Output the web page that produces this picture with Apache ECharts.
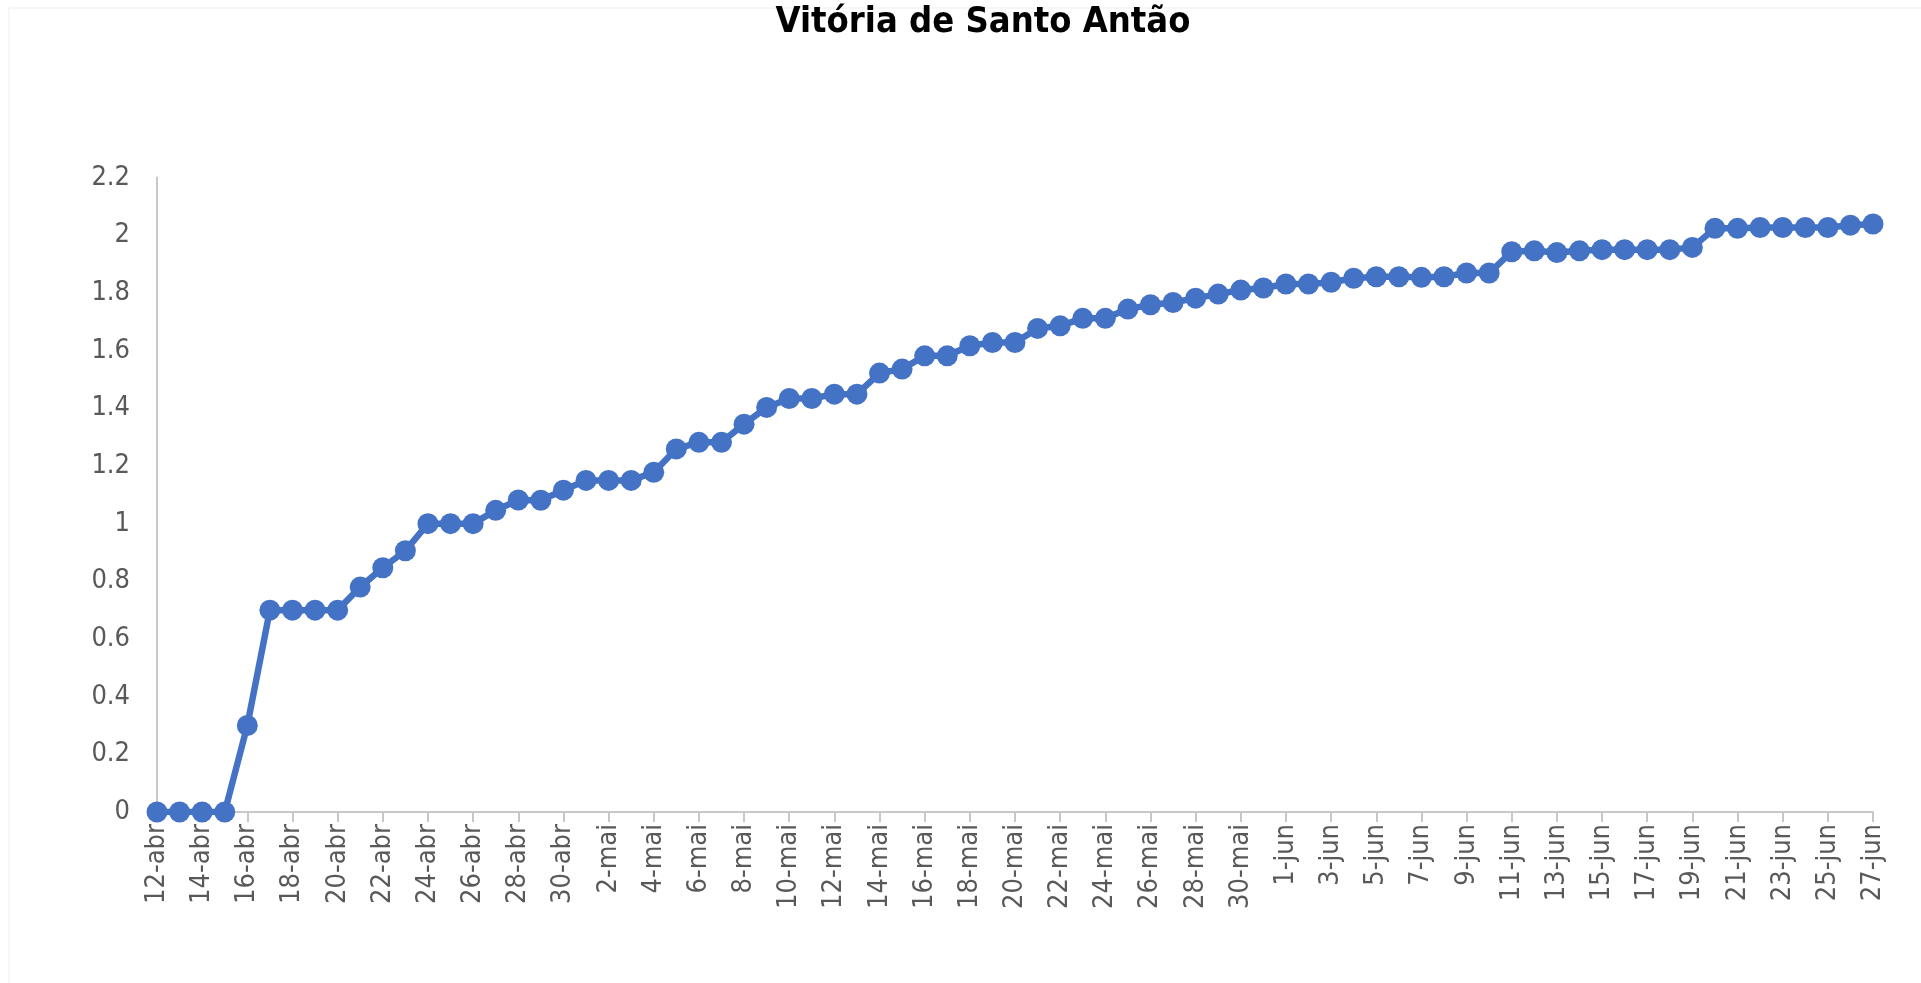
<!DOCTYPE html>
<html>
<head>
<meta charset="utf-8">
<title>Vitória de Santo Antão</title>
<script src="https://cdn.jsdelivr.net/npm/echarts@6/dist/echarts.min.js"></script>
<style>
  html, body { margin: 0; padding: 0; background: #fff; }
  #chart { width: 1921px; height: 983px; }
</style>
</head>
<body>
<div id="chart"></div>
<script>
// datas (12-abr a 27-jun)
var dias = [
  '12-abr', '13-abr', '14-abr', '15-abr', '16-abr', '17-abr', '18-abr', '19-abr', '20-abr', '21-abr',
  '22-abr', '23-abr', '24-abr', '25-abr', '26-abr', '27-abr', '28-abr', '29-abr', '30-abr',
  '1-mai', '2-mai', '3-mai', '4-mai', '5-mai', '6-mai', '7-mai', '8-mai', '9-mai', '10-mai',
  '11-mai', '12-mai', '13-mai', '14-mai', '15-mai', '16-mai', '17-mai', '18-mai', '19-mai', '20-mai',
  '21-mai', '22-mai', '23-mai', '24-mai', '25-mai', '26-mai', '27-mai', '28-mai', '29-mai', '30-mai', '31-mai',
  '1-jun', '2-jun', '3-jun', '4-jun', '5-jun', '6-jun', '7-jun', '8-jun', '9-jun', '10-jun',
  '11-jun', '12-jun', '13-jun', '14-jun', '15-jun', '16-jun', '17-jun', '18-jun', '19-jun', '20-jun',
  '21-jun', '22-jun', '23-jun', '24-jun', '25-jun', '26-jun', '27-jun'
]

// valores
var valoresAbr = [0, 0, 0, 0, 0.30, 0.70, 0.70, 0.70, 0.70, 0.78,
  0.847, 0.906, 1.0, 1.0, 1.0, 1.046, 1.082, 1.081, 1.116]
var valoresMai = [1.15, 1.15, 1.15, 1.178, 1.259, 1.282, 1.282, 1.345, 1.403, 1.434,
  1.434, 1.449, 1.449, 1.522, 1.536, 1.582, 1.582, 1.617, 1.628, 1.628,
  1.677, 1.686, 1.712, 1.712, 1.744, 1.759, 1.767, 1.782, 1.796, 1.81, 1.817]
var valoresJun = [1.831, 1.831, 1.837, 1.851, 1.856, 1.856, 1.854, 1.856, 1.869, 1.869,
  1.943, 1.946, 1.94, 1.946, 1.95, 1.95, 1.95, 1.95, 1.958, 2.024,
  2.024, 2.027, 2.027, 2.027, 2.027, 2.035, 2.039]

var yMin = 0
var yMax = 2.2
var yPasso = 0.2

var fonte = "'DejaVu Sans Condensed', 'Liberation Sans Narrow', 'DejaVu Sans', sans-serif"
var corCinza = '#595959'
var corEixo = '#c8c8c8'

var chart = echarts.init(document.getElementById('chart'), null, { renderer: 'canvas' })

var option = {
  backgroundColor: '#ffffff',
  title: {
    text: 'Vitória de Santo Antão',
    left: 978,
    top: 0,
    textAlign: 'center',
    textStyle: {
      color: '#000000',
      fontFamily: fonte,
      fontSize: 36,
      fontWeight: 'bold'
    }
  },
  graphic: [
    { type: 'line', shape: { x1: 9, y1: 8, x2: 1921, y2: 8 }, style: { stroke: '#eeeeee', lineWidth: 1 }, z: -1 },
    { type: 'line', shape: { x1: 9, y1: 8, x2: 9, y2: 983 }, style: { stroke: '#eeeeee', lineWidth: 1 }, z: -1 }
  ],
  grid: {
    left: 157,
    right: 48,
    top: 177.6,
    bottom: 171
  },
  xAxis: {
    type: 'category',
    data: dias,
    boundaryGap: false,
    axisLine: { show: true, lineStyle: { color: corEixo, width: 2 } },
    axisTick: { show: true, interval: 1, length: 10, lineStyle: { color: corEixo, width: 2 } },
    axisLabel: {
      interval: 1,
      rotate: 90,
      margin: 12,
      color: corCinza,
      fontFamily: fonte,
      fontSize: 27
    },
    splitLine: { show: false }
  },
  yAxis: {
    type: 'value',
    min: yMin,
    max: yMax,
    interval: yPasso,
    axisLine: { show: true, lineStyle: { color: corEixo, width: 2 } },
    axisTick: { show: false },
    axisLabel: {
      margin: 27,
      color: corCinza,
      fontFamily: fonte,
      fontSize: 27,
      formatter: function (v) {
        return String(Math.round(v * 10) / 10)
      }
    },
    splitLine: { show: false }
  },
  series: [
    {
      name: 'Vitória de Santo Antão',
      type: 'line',
      data: valoresAbr.concat(valoresMai, valoresJun),
      symbol: 'circle',
      symbolSize: 21,
      showAllSymbol: true,
      animation: false,
      lineStyle: { color: '#4472C4', width: 6.5 },
      itemStyle: { color: '#4472C4' }
    }
  ]
}

chart.setOption(option)
</script>
</body>
</html>
